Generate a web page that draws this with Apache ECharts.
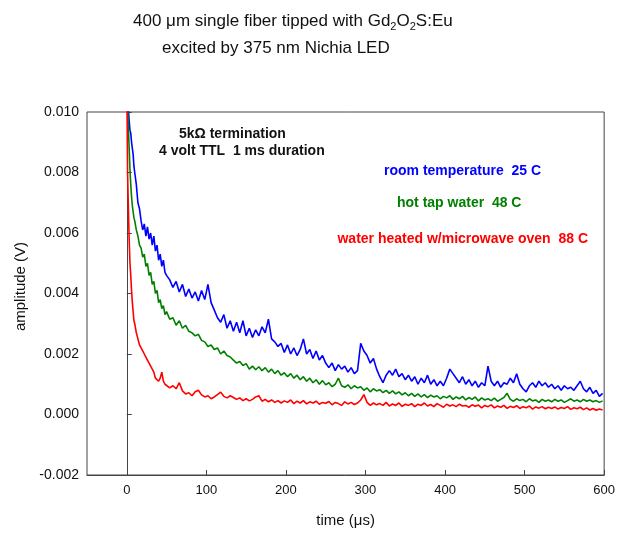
<!DOCTYPE html>
<html>
<head>
<meta charset="utf-8">
<script src="https://cdn.jsdelivr.net/npm/echarts@6/dist/echarts.min.js"></script>
<style>html,body{margin:0;padding:0;background:#fff;}#c{width:618px;height:534px;}</style>
</head>
<body>
<div id="c"></div>
<script>
// time (µs)
const times = [0,1,2,3,4,5,6,7,8,9,10,12,14,16,18,20,22,24,26,28,30,32,34,36,38,40,42,44,46,48,50,
  54,58,62,66,70,74,78,82,86,90,
  94,98,102,106,110,114,118,122,126,130,
  134,138,142,146,150,154,158,162,166,170,
  174,178,182,186,190,194,198,202,206,210,
  214,218,222,226,230,234,238,242,246,250,
  254,258,262,266,270,274,278,282,286,290,
  294,298,302,306,310,314,318,322,326,330,
  334,338,342,346,350,354,358,362,366,370,
  374,378,382,386,390,394,398,402,406,410,
  414,418,422,426,430,434,438,442,446,450,
  454,458,462,466,470,474,478,482,486,490,
  494,498,502,506,510,514,518,522,526,530,
  534,538,542,546,550,554,558,562,566,570,
  574,578,582,586,590,594,598];

// room temperature 25 C (V)
const roomTemp = [0.0125,0.0112,0.0101,0.0097,0.0094,0.0093,0.0090,0.0088,0.0086,0.0082,0.0080,0.0076,0.0070,0.0068,0.0064,0.0061,0.0063,0.0059,0.0062,0.0058,0.0060,0.0056,0.0059,0.0054,0.0056,0.0051,0.0053,0.0049,0.0051,0.0047,0.0046,
  0.00445,0.0042,0.0044,0.00405,0.0043,0.0039,0.00415,0.00385,0.00405,0.00375,
  0.0041,0.0038,0.0043,0.0037,0.00345,0.0032,0.00305,0.0033,0.00285,0.0031,
  0.00275,0.00305,0.0027,0.0031,0.0026,0.00285,0.00255,0.0028,0.0026,0.0029,
  0.0027,0.00315,0.0025,0.0024,0.00225,0.00235,0.00205,0.0023,0.0020,0.0022,
  0.00195,0.00215,0.0025,0.0020,0.00215,0.00185,0.0021,0.0018,0.00195,0.0017,
  0.00155,0.0017,0.00145,0.00165,0.0015,0.0016,0.0014,0.00155,0.00135,0.00145,
  0.00235,0.0021,0.00195,0.0017,0.00185,0.0015,0.00125,0.00105,0.0013,0.00145,
  0.0013,0.0015,0.00125,0.00135,0.00115,0.0013,0.0011,0.00125,0.0010,0.0012,
  0.00105,0.0013,0.0010,0.00115,0.00095,0.0011,0.00095,0.0012,0.0015,0.00135,
  0.0012,0.00105,0.00125,0.0010,0.00115,0.00095,0.0011,0.0009,0.00105,0.00095,
  0.0016,0.0011,0.00095,0.0011,0.0009,0.00105,0.0010,0.0012,0.00105,0.00135,
  0.0010,0.00085,0.00075,0.00095,0.00105,0.0009,0.0011,0.00095,0.00105,0.0009,
  0.0010,0.00085,0.00095,0.0008,0.00095,0.00085,0.0009,0.0008,0.00095,0.0011,
  0.00085,0.00075,0.0009,0.0007,0.0008,0.0006,0.0007];

// hot tap water 48 C (V)
const hotTap = [0.0110,0.0102,0.0095,0.0088,0.0081,0.0076,0.0072,0.0069,0.0067,0.0065,0.0064,0.0061,0.0059,0.0056,0.0055,0.0052,0.0053,0.0049,0.0050,0.0046,0.0047,0.0043,0.0044,0.0040,0.0041,0.0037,0.0038,0.0035,0.0036,0.0033,0.0034,
  0.00315,0.0032,0.00295,0.0031,0.00285,0.00295,0.00275,0.0027,0.0026,0.00265,
  0.00245,0.0024,0.00225,0.0023,0.00215,0.0022,0.0020,0.0021,0.00195,0.0019,
  0.0018,0.0017,0.00175,0.00162,0.00168,0.0015,0.0016,0.00148,0.00158,0.00145,
  0.00155,0.0014,0.0015,0.00135,0.00145,0.0013,0.00138,0.00125,0.00135,0.0012,
  0.0013,0.00115,0.00125,0.0011,0.0012,0.00105,0.00115,0.0010,0.00112,0.00098,
  0.00105,0.00092,0.0010,0.0012,0.00095,0.0009,0.00098,0.00085,0.00095,0.00088,
  0.00092,0.0008,0.00088,0.00075,0.00085,0.00078,0.00082,0.00072,0.0008,0.0007,
  0.00078,0.00068,0.00075,0.00065,0.00072,0.00062,0.0007,0.0006,0.00068,0.00058,
  0.00066,0.00056,0.00064,0.00058,0.00062,0.00052,0.0006,0.00055,0.00062,0.0005,
  0.00058,0.00052,0.0006,0.00048,0.00056,0.0005,0.00058,0.00045,0.00055,0.00048,
  0.00052,0.00046,0.00054,0.00044,0.0005,0.00056,0.0007,0.0005,0.00044,0.00052,
  0.00046,0.0005,0.00042,0.00052,0.00045,0.00048,0.0004,0.0005,0.00044,0.00048,
  0.00042,0.0005,0.00044,0.00048,0.0004,0.00046,0.00052,0.00044,0.00048,0.00042,
  0.0005,0.00044,0.00048,0.00042,0.00046,0.0004,0.00045];

// water heated w/microwave oven 88 C (V)
const microwave = [0.0112,0.0080,0.0068,0.0058,0.0050,0.0046,0.0041,0.0037,0.0034,0.0031,0.0030,0.0027,0.0025,0.0023,0.0022,0.0021,0.0020,0.0019,0.0019,0.0017,0.0016,0.0015,0.0014,0.0012,0.0012,0.0011,0.0012,0.0014,0.0011,0.0010,0.00105,
  0.00088,0.00095,0.00085,0.00105,0.00078,0.00068,0.00072,0.00062,0.00075,0.0008,
  0.00065,0.00058,0.00062,0.00052,0.00058,0.00066,0.00074,0.0006,0.00055,0.00062,
  0.00056,0.0005,0.00055,0.00046,0.00052,0.00045,0.0005,0.00058,0.00062,0.00044,
  0.0005,0.00042,0.00048,0.0004,0.00046,0.00038,0.00045,0.0004,0.00048,0.00036,
  0.00044,0.00038,0.00046,0.00035,0.00042,0.00038,0.00044,0.00034,0.0004,0.00037,
  0.00043,0.00032,0.0004,0.00036,0.0003,0.00042,0.00035,0.0004,0.00033,0.00038,
  0.00048,0.00066,0.0004,0.0003,0.00038,0.00032,0.00036,0.0003,0.0004,0.00028,
  0.00035,0.0003,0.00038,0.00027,0.00034,0.0003,0.00036,0.00026,0.00034,0.0003,
  0.00038,0.00028,0.00033,0.00026,0.00036,0.0003,0.00024,0.00034,0.00028,0.00032,
  0.00026,0.00034,0.00028,0.0003,0.00024,0.00032,0.00027,0.00031,0.00022,0.0003,
  0.00026,0.00032,0.00022,0.00028,0.00024,0.0003,0.0002,0.00027,0.00023,0.00029,
  0.0002,0.00026,0.00022,0.00028,0.00018,0.00025,0.00021,0.00026,0.00019,0.00024,
  0.0002,0.00025,0.00018,0.00023,0.0002,0.00026,0.00017,0.00022,0.00019,0.00024,
  0.00016,0.00022,0.00015,0.0002,0.00014,0.00018,0.00015];

const xTicks = [0,100,200,300,400,500,600];
const yTicks = [-0.002,0.000,0.002,0.004,0.006,0.008,0.010];

const FONT = '"Liberation Sans", Arial, sans-serif';
const pair = arr => times.map((t,i)=>[t, arr[i]]);

const chart = echarts.init(document.getElementById('c'), null, {renderer:'canvas'});
const ann = (text, pos, color, top) => Object.assign({
  text: text, top: top, padding: 0,
  textStyle: {fontFamily: FONT, fontSize: 14, fontWeight: 'bold', color: color}
}, pos);

chart.setOption({
  animation: false,
  backgroundColor: '#fff',
  title: [
    {text: '{a|400 μm single fiber tipped with Gd}{s|2}{a|O}{s|2}{a|S:Eu}', left: 133, top: 10, padding: 0,
     textStyle: {fontWeight: 'normal', rich: {
       a: {fontFamily: FONT, fontSize: 17, fontWeight: 'normal', color: '#111', lineHeight: 22},
       s: {fontFamily: FONT, fontSize: 11, fontWeight: 'normal', color: '#111', lineHeight: 22, verticalAlign: 'bottom'}
     }}},
    {text: 'excited by 375 nm Nichia LED', left: 162, top: 40, padding: 0,
     textStyle: {fontFamily: FONT, fontSize: 17, fontWeight: 'normal', color: '#111'}},
    ann('5kΩ termination', {left: 179}, '#111', 127),
    ann('4 volt TTL  1 ms duration', {left: 159}, '#111', 144),
    ann('room temperature  25 C', {left: 384}, '#0000ff', 164),
    ann('hot tap water  48 C', {left: 397}, '#008000', 196),
    ann('water heated w/microwave oven  88 C', {right: 30}, '#ff0000', 232)
  ],
  grid: {left: 87, top: 112, width: 520, height: 363, show: true, borderColor: '#444', borderWidth: 1, backgroundColor: 'transparent'},
  xAxis: {
    type: 'value', min: -50, max: 600,
    name: 'time (μs)', nameLocation: 'middle', nameGap: 38,
    nameTextStyle: {fontFamily: FONT, fontSize: 15, color: '#111'},
    axisLine: {show: true, onZero: false, lineStyle: {color: '#444', width: 1}},
    axisTick: {show: true, inside: true, length: 5, customValues: xTicks, lineStyle: {color: '#444'}},
    axisLabel: {customValues: xTicks, fontFamily: FONT, fontSize: 13, color: '#111', margin: 9},
    splitLine: {show: false}
  },
  yAxis: {
    type: 'value', min: -0.002, max: 0.010, interval: 0.002,
    name: 'amplitude (V)', nameLocation: 'middle', nameGap: 58,
    nameTextStyle: {fontFamily: FONT, fontSize: 15, color: '#111', padding: [0, 0, 0, 14]},
    axisLine: {show: true, lineStyle: {color: '#444', width: 1}},
    axisTick: {show: true, inside: true, length: 5, lineStyle: {color: '#444'}},
    axisLabel: {fontFamily: FONT, fontSize: 14, color: '#111', margin: 8,
      formatter: v => v.toFixed(3)},
    splitLine: {show: false}
  },
  series: [
    {name: 'room temperature 25 C', type: 'line', data: pair(roomTemp), showSymbol: false, clip: true,
     lineStyle: {color: '#0000ff', width: 1.6}, itemStyle: {color: '#0000ff'}},
    {name: 'hot tap water 48 C', type: 'line', data: pair(hotTap), showSymbol: false, clip: true,
     lineStyle: {color: '#008000', width: 1.6}, itemStyle: {color: '#008000'}},
    {name: 'water heated w/microwave oven 88 C', type: 'line', data: pair(microwave), showSymbol: false, clip: true,
     lineStyle: {color: '#ff0000', width: 1.6}, itemStyle: {color: '#ff0000'}}
  ]
});
</script>
</body>
</html>
